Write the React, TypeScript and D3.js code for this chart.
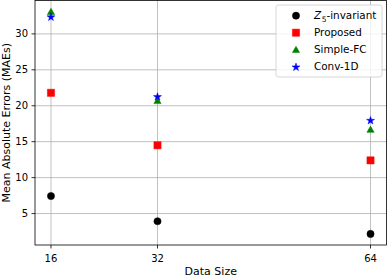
import React from "react";
import * as d3 from "d3";

const dataSizes = [16, 32, 64];
const z5Invariant = [7.44, 3.93, 2.17];
const proposed = [21.8, 14.5, 12.4];
const simpleFC = [33.1, 20.7, 16.7];
const conv1D = [32.4, 21.3, 18.0];
const yTicks = [5, 10, 15, 20, 25, 30];
const xTicks = [16, 32, 64];

const W = 388;
const H = 278;
const left = 35;
const right = 386.5;
const top = 0.5;
const bottom = 245;
const FONT = "DejaVu Sans, sans-serif";

type Kind = "circle" | "square" | "triangle" | "star";

function markerPath(kind: Kind): string {
  if (kind === "circle") {
    return d3.symbol(d3.symbolCircle, Math.PI * 3.6 * 3.6)() as string;
  }
  if (kind === "square") {
    const s = 3.6;
    return `M${-s},${-s}H${s}V${s}H${-s}Z`;
  }
  if (kind === "triangle") {
    const r = 4.2;
    const pts = [0, 1, 2].map((i) => {
      const a = -Math.PI / 2 + (i * 2 * Math.PI) / 3;
      return [r * Math.cos(a), r * Math.sin(a) + 0.8];
    });
    return "M" + pts.map((p) => p.join(",")).join("L") + "Z";
  }
  const ro = 4.2;
  const ri = ro * 0.382;
  const pts: number[][] = [];
  for (let i = 0; i < 10; i++) {
    const a = -Math.PI / 2 + (i * Math.PI) / 5;
    const r = i % 2 === 0 ? ro : ri;
    pts.push([r * Math.cos(a), r * Math.sin(a) + 0.5]);
  }
  return "M" + pts.map((p) => p.join(",")).join("L") + "Z";
}

const series: { name: string; values: number[]; kind: Kind; color: string }[] = [
  { name: "Z5-invariant", values: z5Invariant, kind: "circle", color: "#000000" },
  { name: "Proposed", values: proposed, kind: "square", color: "#ff0000" },
  { name: "Simple-FC", values: simpleFC, kind: "triangle", color: "#008000" },
  { name: "Conv-1D", values: conv1D, kind: "star", color: "#0000ff" },
];

export default function App() {
  const allY = [...z5Invariant, ...proposed, ...simpleFC, ...conv1D];
  const yMin = d3.min(allY)!;
  const yMax = d3.max(allY)!;
  const yPad = (yMax - yMin) * 0.05;
  const xMin = d3.min(dataSizes)!;
  const xMax = d3.max(dataSizes)!;
  const xPad = (xMax - xMin) * 0.05;

  const x = d3.scaleLinear().domain([xMin - xPad, xMax + xPad]).range([left, right]);
  const y = d3.scaleLinear().domain([yMin - yPad, yMax + yPad]).range([bottom, top]);

  return (
    <svg
      width={W}
      height={H}
      style={{ position: "absolute", left: 0, top: 0, background: "#fff" }}
      fontFamily={FONT}
    >
      <rect x={0} y={0} width={W} height={H} fill="#fff" />
      {/* grid */}
      {xTicks.map((t) => (
        <line key={"gx" + t} x1={x(t)} x2={x(t)} y1={top} y2={bottom} stroke="#b0b0b0" strokeWidth={0.8} />
      ))}
      {yTicks.map((t) => (
        <line key={"gy" + t} x1={left} x2={right} y1={y(t)} y2={y(t)} stroke="#b0b0b0" strokeWidth={0.8} />
      ))}
      {/* markers */}
      {series.map((s) =>
        s.values.map((v, i) => (
          <path
            key={s.name + i}
            d={markerPath(s.kind)}
            transform={`translate(${x(dataSizes[i])},${y(v)})`}
            fill={s.color}
            stroke={s.color}
            strokeWidth={0.5}
          />
        ))
      )}
      {/* frame */}
      <rect x={left} y={top} width={right - left} height={bottom - top} fill="none" stroke="#000" strokeWidth={0.8} />
      {/* x ticks */}
      {xTicks.map((t) => (
        <g key={"xt" + t}>
          <line x1={x(t)} x2={x(t)} y1={bottom} y2={bottom + 3.5} stroke="#000" strokeWidth={0.8} />
          <text x={x(t)} y={262} fontSize={10} textAnchor="middle" fill="#000">
            {t}
          </text>
        </g>
      ))}
      {/* y ticks */}
      {yTicks.map((t) => (
        <g key={"yt" + t}>
          <line x1={left - 3.5} x2={left} y1={y(t)} y2={y(t)} stroke="#000" strokeWidth={0.8} />
          <text x={left - 7} y={y(t)} dy="0.36em" fontSize={10} textAnchor="end" fill="#000">
            {t}
          </text>
        </g>
      ))}
      {/* axis labels */}
      <text x={(left + right) / 2} y={275} fontSize={11} textAnchor="middle" fill="#000">
        Data Size
      </text>
      <text
        transform={`translate(9.5,${(top + bottom) / 2}) rotate(-90)`}
        fontSize={11}
        textAnchor="middle"
        fill="#000"
      >
        Mean Absolute Errors (MAEs)
      </text>
      {/* legend */}
      <g>
        <rect x={276} y={5} width={106} height={72} rx={2.5} fill="#fff" fillOpacity={0.8} stroke="#cccccc" strokeWidth={0.8} />
        {series.map((s, i) => {
          const ly = 15.7 + i * 17;
          return (
            <g key={"lg" + s.name}>
              <path d={markerPath(s.kind)} transform={`translate(296,${ly})`} fill={s.color} stroke={s.color} strokeWidth={0.5} />
              <text x={314} y={ly} dy="0.36em" fontSize={10.4} fill="#000">
                {i === 0 ? (
                  <>
                    <tspan fontStyle="italic">Z</tspan>
                    <tspan fontSize={7.5} dx="0.5" dy="2.5">5</tspan>
                    <tspan dy="-2.5">-invariant</tspan>
                  </>
                ) : (
                  s.name
                )}
              </text>
            </g>
          );
        })}
      </g>
    </svg>
  );
}
